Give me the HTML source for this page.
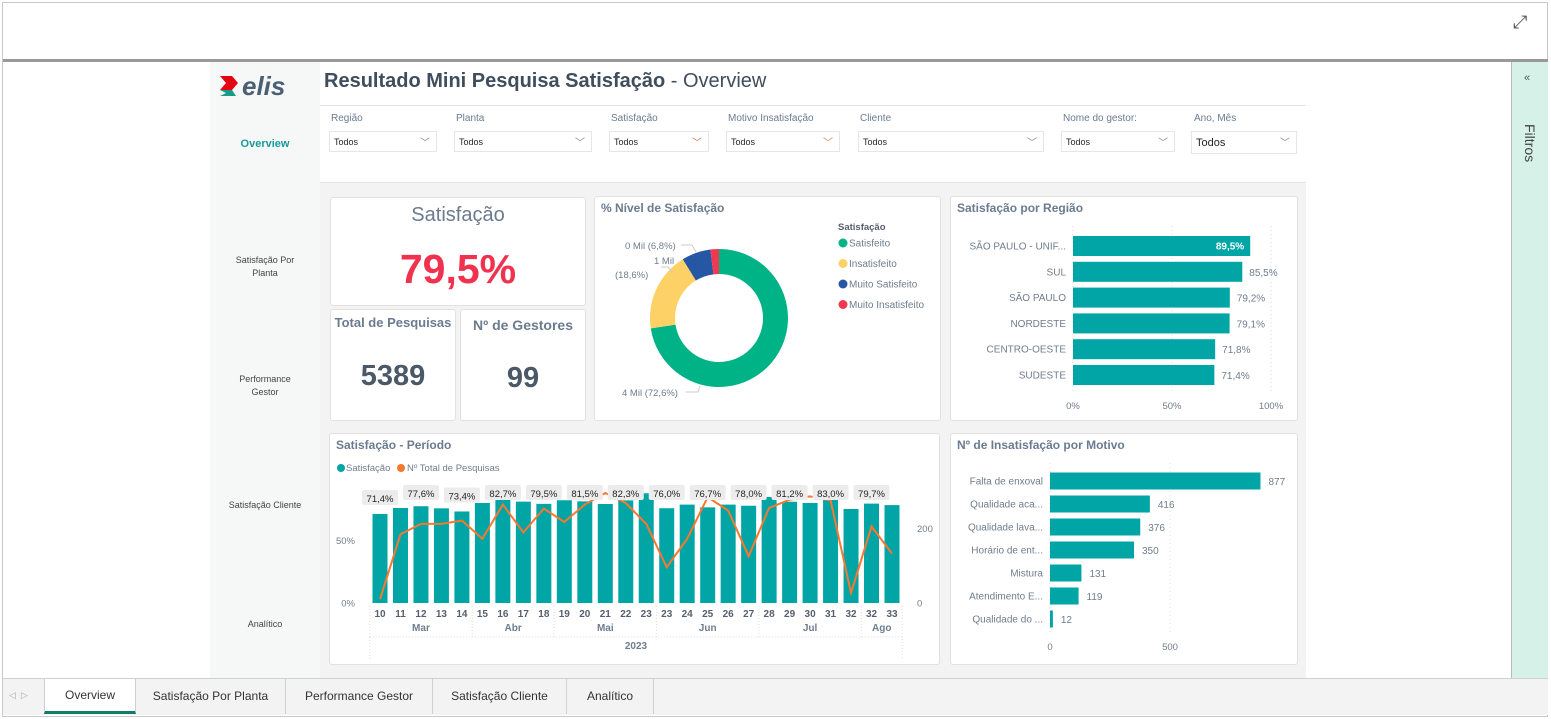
<!DOCTYPE html>
<html><head><meta charset="utf-8">
<style>
*{box-sizing:border-box;margin:0;padding:0}
body{width:1551px;height:719px;overflow:hidden;background:#fff;font-family:"Liberation Sans",sans-serif;position:relative;color:#252423}
.abs{position:absolute}
.card{position:absolute;background:#fff;border:1px solid #e1e1e1;border-radius:3px}
.ttl{position:absolute;left:6px;top:4px;font-size:12px;font-weight:bold;color:#6b7b90}
.flab{position:absolute;font-size:10px;color:#6b7b90}
.fdd{position:absolute;height:21px;border:1px solid #e6e6e6;font-size:9px;color:#252423;padding:5px 4px}
.fdd span.ch{position:absolute;right:6px;top:2px;font-size:10px;color:#888}
.nav{position:absolute;left:210px;width:110px;text-align:center;font-size:9px;color:#444;line-height:13px}
.tab{position:absolute;top:679px;height:35px;font-size:12px;color:#333;text-align:center;line-height:35px;border-right:1px solid #d0d0d0}
svg text{font-family:"Liberation Sans",sans-serif}
</style></head><body>
<div class="abs" style="left:2px;top:2px;width:1546px;height:715px;border:1px solid #c8c8c8"></div>
<div class="abs" style="left:1513px;top:12px;font-size:18px;color:#555">⤢</div>
<div class="abs" style="left:3px;top:59px;width:1545px;height:3px;background:#999"></div>
<div class="abs" style="left:210px;top:62px;width:110px;height:616px;background:#f6f7f7"></div>
<div class="abs" style="left:320px;top:183px;width:986px;height:495px;background:#f3f3f3"></div>
<div class="abs" style="left:320px;top:105px;width:986px;height:1px;background:#e3e6e8"></div>
<div class="abs" style="left:320px;top:182px;width:986px;height:1px;background:#e3e6e8"></div>

<svg class="abs" style="left:218px;top:70px" width="90" height="30">
<polygon points="2,6 14,6 20,13 14,20 2,20 8,13" fill="#e30613"/>
<polygon points="2,20 14,20 18,26 2,26 8,23" fill="#1a9a8a"/>
<text x="24" y="25" font-size="26" font-style="italic" font-weight="bold" fill="#4a6072">elis</text>
</svg>
<div class="abs" style="left:324px;top:70px;font-size:20px;color:#3f4d5c"><b>Resultado Mini Pesquisa Satisfação</b> - Overview</div>

<div class="nav" style="top:138px;font-size:11px;font-weight:bold;color:#1a9a9a">Overview</div>
<div class="nav" style="top:254px">Satisfação Por<br>Planta</div>
<div class="nav" style="top:373px">Performance<br>Gestor</div>
<div class="nav" style="top:499px">Satisfação Cliente</div>
<div class="nav" style="top:618px">Analítico</div>

<div class="flab" style="left:331px;top:113px">Região</div>
<div class="fdd" style="left:329px;top:131px;width:108px">Todos<span class="ch">﹀</span></div>
<div class="flab" style="left:456px;top:113px">Planta</div>
<div class="fdd" style="left:454px;top:131px;width:138px">Todos<span class="ch">﹀</span></div>
<div class="flab" style="left:611px;top:113px">Satisfação</div>
<div class="fdd" style="left:609px;top:131px;width:100px">Todos<span class="ch" style="color:#d07a50">﹀</span></div>
<div class="flab" style="left:728px;top:113px">Motivo Insatisfação</div>
<div class="fdd" style="left:726px;top:131px;width:114px">Todos<span class="ch" style="color:#d07a50">﹀</span></div>
<div class="flab" style="left:860px;top:113px">Cliente</div>
<div class="fdd" style="left:858px;top:131px;width:186px">Todos<span class="ch">﹀</span></div>
<div class="flab" style="left:1063px;top:113px">Nome do gestor:</div>
<div class="fdd" style="left:1061px;top:131px;width:114px">Todos<span class="ch">﹀</span></div>
<div class="flab" style="left:1194px;top:113px">Ano, Mês</div>
<div class="fdd" style="left:1191px;top:131px;width:106px;height:23px;font-size:11px;padding:5px 4px">Todos<span class="ch">﹀</span></div>

<div class="abs" style="left:1511px;top:62px;width:37px;height:616px;background:#d6f1e8;border-left:1px solid #bbb"></div>
<div class="abs" style="left:1524px;top:72px;font-size:11px;color:#555">«</div>
<div class="abs" style="left:1522px;top:124px;font-size:14px;color:#444;writing-mode:vertical-rl">Filtros</div>

<div class="card" style="left:330px;top:197px;width:256px;height:109px">
<div class="abs" style="left:0;width:254px;top:6px;text-align:center;font-size:20px;color:#6b7b90">Satisfação</div>
<div class="abs" style="left:0;width:254px;top:48px;text-align:center;font-size:41px;font-weight:bold;color:#f0324f">79,5%</div>
</div>
<div class="card" style="left:330px;top:309px;width:126px;height:112px">
<div class="abs" style="left:0;width:124px;top:5px;text-align:center;font-size:13px;font-weight:bold;color:#6b7b90">Total de Pesquisas</div>
<div class="abs" style="left:0;width:124px;top:50px;text-align:center;font-size:29px;font-weight:bold;color:#4a5868">5389</div>
</div>
<div class="card" style="left:460px;top:309px;width:126px;height:112px">
<div class="abs" style="left:0;width:124px;top:7px;text-align:center;font-size:14px;font-weight:bold;color:#6b7b90">Nº de Gestores</div>
<div class="abs" style="left:0;width:124px;top:52px;text-align:center;font-size:29px;font-weight:bold;color:#4a5868">99</div>
</div>

<div class="card" style="left:594px;top:196px;width:347px;height:225px"><div class="ttl">% Nível de Satisfação</div></div>
<div class="card" style="left:950px;top:196px;width:348px;height:225px"><div class="ttl">Satisfação por Região</div></div>
<div class="card" style="left:329px;top:433px;width:611px;height:232px"><div class="ttl">Satisfação - Período</div></div>
<div class="card" style="left:950px;top:433px;width:348px;height:232px"><div class="ttl">Nº de Insatisfação por Motivo</div></div>

<svg id="charts" class="abs" style="left:0;top:0" width="1551" height="719"></svg>

<div class="abs" style="left:3px;top:678px;width:1545px;height:37px;background:#f3f3f3;border-top:1px solid #d0d0d0"></div>
<div class="abs" style="left:9px;top:690px;font-size:9px;color:#aaa">◁ &nbsp;▷</div>
<div class="tab" style="left:44px;width:92px;background:#fff;border-left:1px solid #d0d0d0;border-bottom:3px solid #107c6a;line-height:33px">Overview</div>
<div class="tab" style="left:136px;width:150px">Satisfação Por Planta</div>
<div class="tab" style="left:286px;width:147px">Performance Gestor</div>
<div class="tab" style="left:433px;width:134px">Satisfação Cliente</div>
<div class="tab" style="left:567px;width:87px">Analítico</div>

<script>
// ---- data ----
const donutCats = ["Satisfeito","Insatisfeito","Muito Satisfeito","Muito Insatisfeito"];
const donutVals = [72.6, 18.6, 6.8, 2.0];
const regionCats = ["SÃO PAULO - UNIF...","SUL","SÃO PAULO","NORDESTE","CENTRO-OESTE","SUDESTE"];
const regionVals = [89.5, 85.5, 79.2, 79.1, 71.8, 71.4];
const motivoCats = ["Falta de enxoval","Qualidade aca...","Qualidade lava...","Horário de ent...","Mistura","Atendimento E...","Qualidade do ..."];
const motivoVals = [877, 416, 376, 350, 131, 119, 12];
const weekLabels = ["10","11","12","13","14","15","16","17","18","19","20","21","22","23","23","24","25","26","27","28","29","30","31","32","32","33"];
const satVals = [71.4,76.2,77.6,75.9,73.4,80.2,82.7,81.3,79.5,82.4,81.5,79.4,82.3,88.0,76.0,78.9,76.7,78.9,78.0,85.0,81.2,80.2,83.0,75.4,79.7,78.5];
const totalVals = [10,185,213,213,222,173,265,190,254,218,265,296,269,213,96,173,285,249,126,256,278,287,276,27,206,133];
const months = ["Mar","Abr","Mai","Jun","Jul","Ago"];
const monthStart = [0,5,9,14,19,24];
const monthEnd = [4,8,13,18,23,25];
const yLeftTicks = [0,50];
const yRightTicks = [0,200];
</script>
<script>
const NS="http://www.w3.org/2000/svg";
const svg=document.getElementById('charts');
function mk(tag,attrs,parent){const e=document.createElementNS(NS,tag);for(const k in attrs)e.setAttribute(k,attrs[k]);(parent||svg).appendChild(e);return e;}
function txt(x,y,s,attrs,parent){const t=mk('text',Object.assign({x:x,y:y},attrs||{}),parent);t.textContent=s;return t;}
const TEAL="#01a5a6", GRAY="#6f7d8c";

// ---- donut ----
const dCol=["#00b386","#fdd166","#2657a4","#f0394f"];
const cx=719,cy=318,R=69,r=44;
let tot=donutVals.reduce((a,b)=>a+b,0),ang=-Math.PI/2;
donutVals.forEach((v,i)=>{
  const a2=ang+v/tot*2*Math.PI, big=(a2-ang)>Math.PI?1:0;
  const p=[cx+R*Math.cos(ang),cy+R*Math.sin(ang),cx+R*Math.cos(a2),cy+R*Math.sin(a2),cx+r*Math.cos(a2),cy+r*Math.sin(a2),cx+r*Math.cos(ang),cy+r*Math.sin(ang)];
  const s=mk('path',{d:`M${p[0]},${p[1]}A${R},${R} 0 ${big} 1 ${p[2]},${p[3]}L${p[4]},${p[5]}A${r},${r} 0 ${big} 0 ${p[6]},${p[7]}Z`,fill:dCol[i]});
  
  
  ang=a2;
});
const dl=[[625,249,"0 Mil (6,8%)"],[654,264,"1 Mil"],[615,278,"(18,6%)"],[622,396,"4 Mil (72,6%)"]];
dl.forEach(d=>{const t=txt(d[0],d[1],d[2],{'font-size':9.5,fill:GRAY});

});
mk('path',{d:"M681,245 L692,245 L696,252",stroke:"#ccc",fill:"none"});
mk('path',{d:"M661,267 L668,267 L673,273",stroke:"#ccc",fill:"none"});
mk('path',{d:"M686,392 L698,392 L700,386",stroke:"#ccc",fill:"none"});
const lt=txt(838,230,"Satisfação",{'font-size':9.5,'font-weight':'bold',fill:"#555f6d"});


donutCats.forEach((c,i)=>{const y=243+i*20.5;
 const g=mk('g',{});
 
 
 mk('circle',{cx:843,cy:y,r:4.5,fill:dCol[i]},g);
 txt(849,y+3.5,c,{'font-size':10,fill:GRAY},g);});

// ---- region bars ----
const rx0=1073, rx1=1271;
[0,50,100].forEach(t=>{const x=rx0+(rx1-rx0)*t/100;
 mk('line',{x1:x,y1:226,x2:x,y2:392,stroke:"#ddd",'stroke-dasharray':"1,3"});
 const tt=txt(x,409,t+"%",{'font-size':9.5,fill:GRAY,'text-anchor':'middle'});
 
 });
regionCats.forEach((c,i)=>{const y=246+i*25.8, w=(rx1-rx0)*regionVals[i]/100;
 const b=mk('rect',{x:rx0,y:y-10,width:w,height:20,fill:TEAL});
 
 
 txt(1066,y+3.5,c,{'font-size':10,fill:GRAY,'text-anchor':'end'});
 const lab=(regionVals[i].toFixed(1)).replace('.',',')+'%';
 if(i===0) txt(rx0+w-6,y+3.5,lab,{'font-size':10,fill:'#fff','text-anchor':'end','font-weight':'bold'});
 else txt(rx0+w+7,y+4,lab,{'font-size':10,fill:GRAY});
});

// ---- motivo bars ----
const mx0=1050, mscale=120/500;
[0,500].forEach(t=>{const x=mx0+t*mscale;
 mk('line',{x1:x,y1:463,x2:x,y2:632,stroke:"#ddd",'stroke-dasharray':"1,3"});
 const tt=txt(x,650,String(t),{'font-size':9.5,fill:GRAY,'text-anchor':'middle'});
 
 });
motivoCats.forEach((c,i)=>{const y=481+i*23, w=motivoVals[i]*mscale;
 const b=mk('rect',{x:mx0,y:y-8.5,width:w,height:17,fill:TEAL});
 
 
 txt(1043,y+3.5,c,{'font-size':10,fill:GRAY,'text-anchor':'end'});
 txt(mx0+w+8,y+4,String(motivoVals[i]),{'font-size':10,fill:GRAY});
});

// ---- period combo ----
const n=satVals.length;
const px0=380, pstep=(892-380)/(n-1), py0=603, pH=124.7, rH=74.3/200;
const X=i=>px0+i*pstep, YL=v=>py0-v/100*pH, YR=v=>py0-v*rH;
mk('circle',{cx:341,cy:468,r:4,fill:TEAL});
txt(346,471,"Satisfação",{'font-size':9.5,fill:GRAY});
mk('circle',{cx:401,cy:468,r:4,fill:"#f7782f"});
txt(407,471,"Nº Total de Pesquisas",{'font-size':9.5,fill:GRAY});
yLeftTicks.forEach(t=>{const tt=txt(355,YL(t)+3.5,t+"%",{'font-size':9.5,fill:GRAY,'text-anchor':'end'});
 
 });
yRightTicks.forEach(t=>{const tt=txt(917,YR(t)+3.5,String(t),{'font-size':9.5,fill:GRAY});
 
 });
satVals.forEach((v,i)=>{const b=mk('rect',{x:X(i)-7.5,y:YL(v),width:15,height:py0-YL(v),fill:TEAL});
 
 
 txt(X(i),617,weekLabels[i],{'font-size':10,'font-weight':'bold',fill:"#555f6d",'text-anchor':'middle'});
});
let d="";totalVals.forEach((v,i)=>{d+=(i?"L":"M")+X(i)+","+YR(v);});
const ln=mk('path',{d:d,stroke:"#f7782f",'stroke-width':2,fill:"none"});


satVals.forEach((v,i)=>{if(i%2)return;
 const ly=Math.max(494,YL(v)-15);
 mk('rect',{x:X(i)-18,y:ly-9,width:36,height:15,fill:"#ececec",rx:2});
 const t=txt(X(i),ly+3,v.toFixed(1).replace('.',',')+'%',{'font-size':9.5,fill:"#252423",'text-anchor':'middle'});
 
 });
months.forEach((m,k)=>{const c=(X(monthStart[k])+X(monthEnd[k]))/2;
 const t=txt(c,631,m,{'font-size':10,'font-weight':'bold',fill:"#6f7d8c",'text-anchor':'middle'});
 
 
 const xs=X(monthStart[k])-pstep/2;
 mk('line',{x1:xs,y1:606,x2:xs,y2:637,stroke:"#ddd",'stroke-dasharray':"1,2"});});
mk('line',{x1:X(n-1)+pstep/2,y1:606,x2:X(n-1)+pstep/2,y2:660,stroke:"#ddd",'stroke-dasharray':"1,2"});
mk('line',{x1:X(0)-pstep/2,y1:637,x2:X(0)-pstep/2,y2:660,stroke:"#ddd",'stroke-dasharray':"1,2"});
mk('line',{x1:X(0)-pstep/2,y1:637,x2:X(n-1)+pstep/2,y2:637,stroke:"#ddd",'stroke-dasharray':"1,2"});
txt((X(0)+X(n-1))/2,649,"2023",{'font-size':10,'font-weight':'bold',fill:"#6f7d8c",'text-anchor':'middle'});
</script>
</body></html>
